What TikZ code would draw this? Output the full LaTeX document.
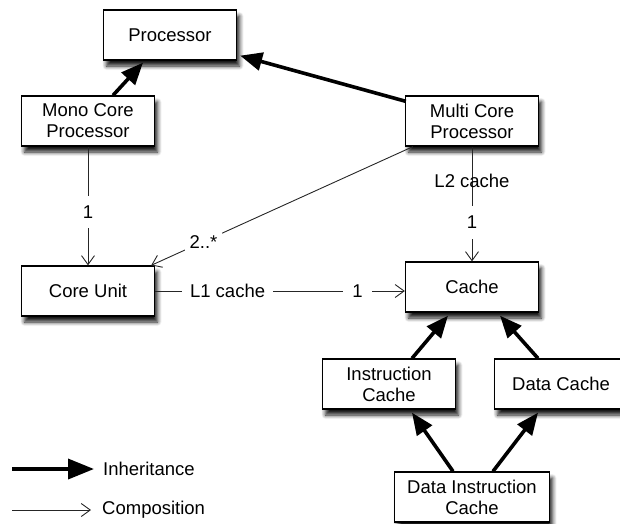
\documentclass[tikz,border=0pt]{standalone}
\usepackage{fontspec}
\setmainfont{Liberation Sans}
\usetikzlibrary{calc,arrows.meta,shadows.blur}
\tikzset{
  box/.style={draw,fill=white,line width=1.3pt,minimum width=133pt,minimum height=50pt,
    align=center,inner sep=2pt,
    blur shadow={shadow xshift=3pt,shadow yshift=-6pt,shadow blur radius=4pt,
      shadow blur steps=6,shadow opacity=90}},
  inherit/.style={line width=3.6pt,-{Triangle[length=22pt,width=18pt]}},
  compose/.style={line width=0.9pt,draw=black!85,
    -{Straight Barb[length=9pt,width=13pt,line width=0.9pt]}},
  mult/.style={fill=white,inner xsep=9pt,inner ysep=10pt}
}

\begin{document}
\begin{tikzpicture}[x=1pt,y=-1pt,every node/.style={font=\fontsize{18.5}{21}\selectfont}]
    \useasboundingbox (0,0) rectangle (620,523);
    % classes
    \node[box] (proc) at (170,35) {Processor};
    \node[box] (mono) at (88,121) {Mono Core\\Processor};
    \node[box] (multi) at (472,121) {Multi Core\\Processor};
    \node[box] (core) at (88,291) {Core Unit};
    \node[box] (cache) at (472,287) {Cache};
    \node[box] (icache) at (389,384) {Instruction\\Cache};
    \node[box] (dcache) at (561,384) {Data Cache};
    \node[box,minimum width=155pt] (dic) at (472,497) {Data Instruction\\Cache};
    % inheritance
    \draw[inherit] ($(mono.north)+(25,0)$) -- ($(proc.south)+(-27,2)$);
    \draw[inherit] ($(multi.north west)+(1,6)$) -- ($(proc.south east)+(3,-5)$);
    \draw[inherit] ($(icache.north)+(23,0)$) -- ($(cache.south)+(-24,3)$);
    \draw[inherit] ($(dcache.north)+(-23,0)$) -- ($(cache.south)+(28,3)$);
    \draw[inherit] ($(dic.north)+(-19,0)$) -- ($(icache.south)+(23,3)$);
    \draw[inherit] ($(dic.north)+(21,0)$) -- ($(dcache.south)+(-23,3)$);
    % composition
    \draw[compose] (mono.south) -- node[mult,pos=.55] {1} (core.north);
    \draw[compose] ($(multi.south west)+(8,0)$) -- node[mult,pos=.8,inner sep=5pt] {2..*} ($(core.north east)+(-4,0)$);
    \draw[compose] (multi.south) -- node[pos=.3] {L2 cache} node[mult,pos=.66] {1} (cache.north);
    \draw[compose] (core.east) -- node[mult,pos=.29,inner xsep=8pt] {L1 cache} node[mult,pos=.81] {1} (core.east -| cache.west);
    % legend
    \coordinate (inhA) at (12,469);
    \coordinate (inhB) at (94,469);
    \coordinate (comA) at (12,510);
    \coordinate (comB) at (91,510);
    \draw[inherit,-{Triangle[length=26pt,width=20pt]}] (inhA) -- (inhB);
    \draw[compose] (comA) -- (comB);
    \node[right,inner sep=2pt] (inh) at (101,469) {Inheritance};
    \node[right,inner sep=2pt] (com) at (100,510) {Composition};
\end{tikzpicture}
\end{document}
